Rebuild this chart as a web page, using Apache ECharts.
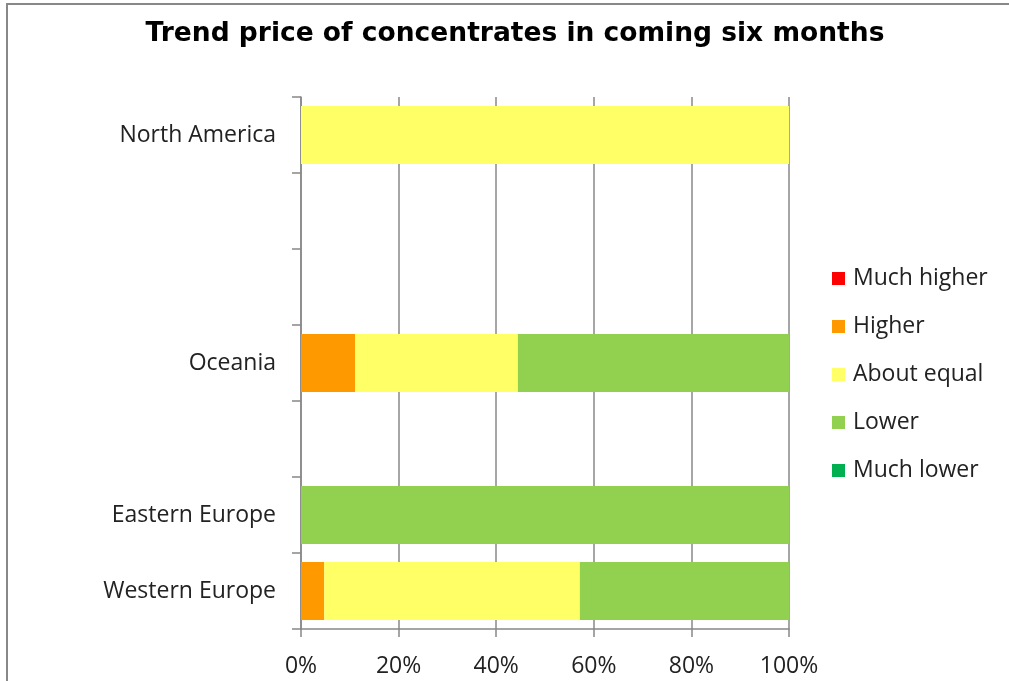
<!DOCTYPE html>
<html>
<head>
<meta charset="utf-8">
<script src="https://cdn.jsdelivr.net/npm/echarts@6/dist/echarts.min.js"></script>
<style>
html,body{margin:0;padding:0;background:#fff;overflow:hidden;}
#frame{position:absolute;left:6px;top:3px;width:1100px;height:800px;border:2px solid #888;box-sizing:border-box;}
#chart{position:absolute;left:0;top:0;width:1009px;height:681px;}
</style>
</head>
<body>
<div id="frame"></div>
<div id="chart"></div>
<script>
const categories = ["Western Europe", "Eastern Europe", " ", "Oceania", "  ", "   ", "North America"];
const seriesNames = ["Much higher", "Higher", "About equal", "Lower", "Much lower"];
const muchHigher = [0, 0, 0, 0, 0, 0, 0];
const higher = [4.76, 0, 0, 11.11, 0, 0, 0];
const aboutEqual = [52.38, 0, 0, 33.33, 0, 0, 100];
const lower = [42.86, 100, 0, 55.56, 0, 0, 0];
const muchLower = [0, 0, 0, 0, 0, 0, 0];
const xTicks = [0, 20, 40, 60, 80, 100];

const colors = ["#FF0000", "#FF9900", "#FFFF66", "#92D050", "#00B050"];
const values = [muchHigher, higher, aboutEqual, lower, muchLower];
const font = "'Open Sans', 'Noto Sans', sans-serif";

const chart = echarts.init(document.getElementById('chart'), null, {renderer: 'canvas'});
chart.setOption({
  backgroundColor: 'transparent',
  animation: false,
  title: {
    text: 'Trend price of concentrates in coming six months',
    left: 510, top: 16, textAlign: 'center',
    textStyle: {fontFamily: "'DejaVu Sans', sans-serif", fontWeight: 'bold', fontSize: 26.5, color: '#000'}
  },
  grid: {left: 301, right: 220, top: 97, bottom: 52, containLabel: false},
  legend: {
    orient: 'vertical', left: 832, top: 267, padding: 0,
    itemWidth: 13, itemHeight: 13, itemGap: 25, icon: 'rect',
    data: seriesNames,
    textStyle: {fontFamily: font, fontSize: 23, color: '#222', lineHeight: 22, padding: [0, 0, 0, 3]},
    selectedMode: false
  },
  xAxis: {
    type: 'value', min: xTicks[0], max: xTicks[xTicks.length-1], interval: 20,
    axisLine: {show: true, lineStyle: {color: '#888', width: 1.5}},
    axisTick: {show: true, length: 8, lineStyle: {color: '#888', width: 1.5}},
    splitLine: {show: true, lineStyle: {color: '#888', width: 1.5}},
    axisLabel: {formatter: '{value}%', fontFamily: font, fontSize: 23, color: '#222', margin: 26}
  },
  yAxis: {
    type: 'category', data: categories,
    axisLine: {show: true, lineStyle: {color: '#888', width: 1.5}},
    axisTick: {show: true, length: 9, lineStyle: {color: '#888', width: 1.5}},
    axisLabel: {fontFamily: font, fontSize: 23, color: '#222', margin: 25}
  },
  series: seriesNames.map((n, i) => ({
    name: n, type: 'bar', stack: 'total', barWidth: 58,
    itemStyle: {color: colors[i]},
    data: values[i]
  }))
});
</script>
</body>
</html>
